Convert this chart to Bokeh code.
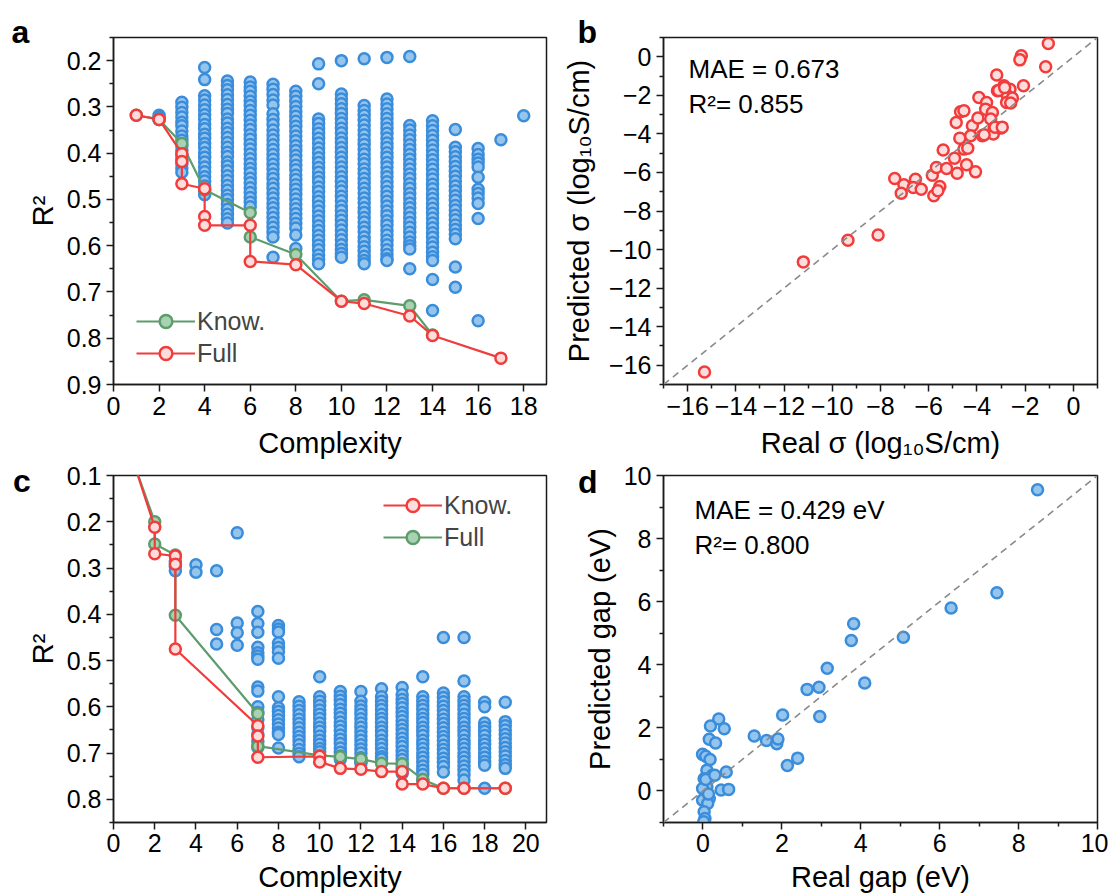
from bokeh.plotting import figure
from bokeh.layouts import column, row
from bokeh.models import Range1d, FixedTicker, Label, Legend, LegendItem, Slope
from bokeh.embed import file_html
from bokeh.resources import INLINE

FONT = "Liberation Sans"
INK = "#1a1a1a"
BLUE_LINE = "#3a8ddb"
BLUE_FILL = "#95c4ed"
RED = "#f23c3c"
RED_FILL = "#fddcdc"
GREEN = "#5d9d6d"
GREEN_FILL = "#a8d2b2"

# ---------------- panel a data ----------------
a_cols = [2, 3, 4, 5, 6, 7, 8, 9, 10, 11, 12, 13, 14, 15, 16, 17, 18]
a_vals = [
    [0.318, 0.322, 0.327],
    [0.290, 0.301, 0.312, 0.322, 0.333, 0.341, 0.352, 0.363, 0.372, 0.384, 0.393, 0.404, 0.413, 0.423, 0.432, 0.441],
    [0.215, 0.241, 0.276, 0.285, 0.296, 0.306, 0.317, 0.326, 0.338, 0.347, 0.359, 0.368, 0.379, 0.388, 0.399, 0.409,
     0.419, 0.430, 0.440, 0.451, 0.460, 0.471, 0.482, 0.490],
    [0.244, 0.254, 0.263, 0.274, 0.284, 0.295, 0.305, 0.314, 0.326, 0.335, 0.346, 0.356, 0.366, 0.377, 0.387, 0.398,
     0.407, 0.419, 0.428, 0.438, 0.449, 0.459, 0.470, 0.480, 0.491, 0.500, 0.511, 0.521, 0.532, 0.542, 0.551],
    [0.246, 0.257, 0.266, 0.277, 0.288, 0.297, 0.308, 0.318, 0.329, 0.339, 0.349, 0.360, 0.370, 0.381, 0.391, 0.402,
     0.412, 0.423, 0.433, 0.443, 0.454, 0.464, 0.475, 0.485, 0.496, 0.506, 0.516],
    [0.251, 0.262, 0.273, 0.285, 0.296, 0.315, 0.327, 0.338, 0.350, 0.361, 0.371, 0.382, 0.392, 0.403, 0.413, 0.424,
     0.434, 0.445, 0.455, 0.466, 0.476, 0.487, 0.497, 0.508, 0.518, 0.529, 0.539, 0.550, 0.560, 0.571, 0.581, 0.625],
    [0.266, 0.277, 0.288, 0.299, 0.310, 0.320, 0.331, 0.342, 0.352, 0.363, 0.373, 0.384, 0.394, 0.405, 0.415, 0.426,
     0.436, 0.447, 0.457, 0.468, 0.478, 0.489, 0.499, 0.510, 0.520, 0.531, 0.541, 0.552, 0.562, 0.577, 0.606],
    [0.207, 0.250, 0.326, 0.336, 0.347, 0.357, 0.368, 0.378, 0.389, 0.399, 0.410, 0.420, 0.431, 0.441, 0.452, 0.462,
     0.473, 0.483, 0.494, 0.504, 0.515, 0.525, 0.536, 0.546, 0.557, 0.567, 0.578, 0.588, 0.599, 0.609, 0.620, 0.630, 0.639],
    [0.200, 0.272, 0.283, 0.293, 0.304, 0.314, 0.325, 0.335, 0.346, 0.356, 0.367, 0.377, 0.388, 0.398, 0.409, 0.419,
     0.430, 0.440, 0.451, 0.461, 0.472, 0.482, 0.493, 0.503, 0.514, 0.524, 0.535, 0.545, 0.556, 0.566, 0.577, 0.587,
     0.598, 0.608, 0.617, 0.625],
    [0.196, 0.297, 0.308, 0.318, 0.329, 0.339, 0.350, 0.360, 0.371, 0.381, 0.392, 0.402, 0.413, 0.423, 0.434, 0.444,
     0.455, 0.465, 0.476, 0.486, 0.497, 0.507, 0.518, 0.528, 0.539, 0.549, 0.560, 0.570, 0.581, 0.591, 0.602, 0.612,
     0.623, 0.632, 0.639],
    [0.193, 0.283, 0.294, 0.304, 0.315, 0.325, 0.336, 0.346, 0.357, 0.367, 0.378, 0.388, 0.399, 0.409, 0.420, 0.430,
     0.441, 0.451, 0.462, 0.472, 0.483, 0.493, 0.504, 0.514, 0.525, 0.535, 0.546, 0.556, 0.567, 0.577, 0.588, 0.598,
     0.609, 0.619, 0.628, 0.632],
    [0.191, 0.340, 0.350, 0.361, 0.371, 0.382, 0.392, 0.403, 0.413, 0.424, 0.434, 0.445, 0.455, 0.466, 0.476, 0.487,
     0.497, 0.508, 0.518, 0.529, 0.539, 0.550, 0.560, 0.571, 0.581, 0.592, 0.600, 0.607, 0.650],
    [0.330, 0.341, 0.351, 0.362, 0.372, 0.383, 0.393, 0.404, 0.414, 0.425, 0.435, 0.446, 0.456, 0.467, 0.477, 0.488,
     0.498, 0.509, 0.519, 0.530, 0.540, 0.551, 0.561, 0.572, 0.582, 0.593, 0.603, 0.614, 0.624, 0.632, 0.673, 0.740],
    [0.349, 0.387, 0.397, 0.408, 0.418, 0.429, 0.439, 0.450, 0.460, 0.471, 0.481, 0.492, 0.502, 0.513, 0.523, 0.534,
     0.544, 0.555, 0.565, 0.575, 0.585, 0.646, 0.690],
    [0.390, 0.403, 0.413, 0.421, 0.430, 0.452, 0.478, 0.487, 0.497, 0.509, 0.541, 0.762],
    [0.371],
    [0.319],
]
a_know_x = [1, 2, 3, 4, 6, 6, 8, 10, 11, 13, 14]
a_know_y = [0.318, 0.327, 0.379, 0.479, 0.529, 0.581, 0.619, 0.720, 0.717, 0.730, 0.793]
a_full_x = [1, 2, 3, 3, 3, 4, 4, 4, 6, 6, 8, 10, 11, 13, 14, 17]
a_full_y = [0.318, 0.327, 0.401, 0.418, 0.466, 0.477, 0.537, 0.556, 0.556, 0.634, 0.641, 0.720, 0.725, 0.752, 0.794, 0.843]
a_xticks = [0, 2, 4, 6, 8, 10, 12, 14, 16, 18]
a_yticks = [0.2, 0.3, 0.4, 0.5, 0.6, 0.7, 0.8, 0.9]
a_ytick_labels = ["0.2", "0.3", "0.4", "0.5", "0.6", "0.7", "0.8", "0.9"]
a_yminor = [0.15, 0.25, 0.35, 0.45, 0.55, 0.65, 0.75, 0.85]

# ---------------- panel b data ----------------
b_real = [-15.3, -11.2, -9.35, -8.1, -7.41, -7.03, -7.14, -6.55, -6.64, -6.31, -5.85, -5.68, -5.79, -5.54, -5.62,
          -5.40, -5.26, -4.93, -4.82, -4.71, -4.54, -4.38, -4.43, -4.06, -4.86, -4.68, -4.54, -4.19, -4.26, -3.96,
          -3.92, -3.78, -3.60, -3.64, -3.36, -3.43, -3.29, -3.32, -3.02, -3.18, -3.15, -2.88, -2.63, -2.74, -2.77,
          -2.53, -2.07, -2.16, -2.22, -1.15, -1.04, -3.10, -2.85, -2.60, -3.25, -2.95, -3.70]
b_pred = [-16.35, -10.64, -9.52, -9.25, -6.31, -6.64, -7.08, -6.35, -6.78, -6.87, -6.14, -5.74, -7.21, -6.73, -6.95,
          -4.84, -5.80, -5.26, -6.04, -4.22, -4.79, -4.74, -5.60, -5.97, -3.41, -2.85, -2.80, -3.58, -4.10, -3.18,
          -2.11, -4.10, -2.37, -2.72, -2.89, -3.23, -3.70, -4.01, -3.70, -0.95, -1.76, -1.50, -1.68, -2.02, -2.37,
          -2.14, -1.50, 0.05, -0.16, -0.52, 0.69, -1.75, -1.60, -2.40, -3.65, -3.65, -4.05]
b_ticks = [-16, -14, -12, -10, -8, -6, -4, -2, 0]
b_tick_labels = ["\u221216", "\u221214", "\u221212", "\u221210", "\u22128", "\u22126", "\u22124", "\u22122", "0"]
b_minor = [-17, -15, -13, -11, -9, -7, -5, -3, -1, 1]

# ---------------- panel c data ----------------
c_cols = [3, 4, 5, 6, 7, 8, 9, 10, 11, 12, 13, 14, 15, 16, 17, 18, 19]
c_vals = [
    [0.285, 0.297, 0.306],
    [0.293, 0.309],
    [0.306, 0.433, 0.464],
    [0.224, 0.419, 0.440, 0.467],
    [0.394, 0.420, 0.439, 0.471, 0.483, 0.490, 0.497, 0.557, 0.566, 0.600, 0.612, 0.628, 0.645, 0.660, 0.675, 0.688],
    [0.424, 0.432, 0.438, 0.462, 0.472, 0.481, 0.495, 0.578, 0.602, 0.610, 0.619, 0.628, 0.637, 0.646, 0.655, 0.660, 0.689],
    [0.589, 0.599, 0.608, 0.617, 0.627, 0.636, 0.645, 0.655, 0.664, 0.673, 0.682, 0.692, 0.701, 0.708],
    [0.535, 0.578, 0.588, 0.597, 0.607, 0.616, 0.625, 0.635, 0.644, 0.653, 0.663, 0.672, 0.681, 0.690, 0.697],
    [0.567, 0.577, 0.586, 0.595, 0.605, 0.614, 0.623, 0.633, 0.642, 0.651, 0.661, 0.670, 0.679, 0.689, 0.698, 0.706, 0.713],
    [0.567, 0.588, 0.598, 0.607, 0.616, 0.626, 0.635, 0.644, 0.654, 0.663, 0.672, 0.682, 0.691, 0.700, 0.710, 0.718, 0.722],
    [0.561, 0.578, 0.588, 0.597, 0.606, 0.616, 0.625, 0.634, 0.644, 0.653, 0.662, 0.672, 0.681, 0.690, 0.700, 0.708, 0.713],
    [0.558, 0.574, 0.584, 0.593, 0.602, 0.612, 0.621, 0.630, 0.640, 0.649, 0.658, 0.668, 0.677, 0.686, 0.696, 0.705,
     0.714, 0.724, 0.733, 0.744],
    [0.535, 0.578, 0.588, 0.597, 0.606, 0.616, 0.625, 0.634, 0.644, 0.653, 0.662, 0.672, 0.681, 0.690, 0.700, 0.709,
     0.718, 0.728, 0.737, 0.746, 0.758],
    [0.450, 0.570, 0.580, 0.589, 0.599, 0.608, 0.617, 0.627, 0.636, 0.645, 0.655, 0.664, 0.673, 0.683, 0.692, 0.701,
     0.711, 0.720, 0.729, 0.741],
    [0.450, 0.544, 0.578, 0.588, 0.597, 0.606, 0.616, 0.625, 0.634, 0.644, 0.653, 0.662, 0.672, 0.681, 0.690, 0.700,
     0.709, 0.718, 0.728, 0.737, 0.747, 0.758],
    [0.590, 0.600, 0.635, 0.644, 0.653, 0.662, 0.672, 0.681, 0.690, 0.700, 0.709, 0.718, 0.726, 0.776],
    [0.590, 0.632, 0.641, 0.650, 0.660, 0.669, 0.678, 0.688, 0.697, 0.706, 0.716, 0.725, 0.733],
]
c_know_x = [1, 2, 2, 3, 3, 3, 7, 7, 7, 10, 10, 11, 12, 13, 14, 14, 15, 16, 17, 19]
c_know_y = [0.075, 0.212, 0.269, 0.274, 0.292, 0.475, 0.641, 0.663, 0.709, 0.707, 0.719, 0.733, 0.735, 0.740, 0.740,
            0.767, 0.767, 0.776, 0.776, 0.776]
c_full_x = [1, 2, 2, 3, 3, 7, 7, 10, 11, 12, 13, 14, 15, 16, 17, 19]
c_full_y = [0.075, 0.200, 0.248, 0.272, 0.402, 0.615, 0.685, 0.705, 0.708, 0.713, 0.722, 0.723, 0.757, 0.776, 0.776, 0.776]
c_xticks = [0, 2, 4, 6, 8, 10, 12, 14, 16, 18, 20]
c_yticks = [0.1, 0.2, 0.3, 0.4, 0.5, 0.6, 0.7, 0.8]
c_ytick_labels = ["0.1", "0.2", "0.3", "0.4", "0.5", "0.6", "0.7", "0.8"]
c_yminor = [0.15, 0.25, 0.35, 0.45, 0.55, 0.65, 0.75, 0.85]

# ---------------- panel d data ----------------
d_real = [8.48, 7.45, 6.29, 5.08, 3.82, 3.76, 3.15, 4.10, 2.94, 2.64, 2.96, 2.02, 1.30, 1.61, 1.87, 1.90, 2.14, 2.40,
          0.40, 0.19, 0.54, 0.16, 0.32, -0.01, 0.07, 0.18, 0.10, 0.59, 0.03, 0.24, 0.10, 0.46, 0.65, -0.01, 0.16,
          -0.01, 0.12, 0.03, 0.05, 0.02, 0.07, 0.30, 0.14]
d_pred = [9.55, 6.28, 5.80, 4.87, 5.30, 4.77, 3.89, 3.42, 3.29, 3.22, 2.36, 2.41, 1.74, 1.60, 1.50, 1.65, 0.81, 1.04,
          2.28, 2.06, 1.97, 1.64, 1.52, 1.16, 1.10, 1.00, 0.66, 0.60, 0.39, 0.50, 0.13, 0.03, 0.05, 0.08, -0.24,
          -0.29, -0.40, -0.66, -0.87, -0.98, 0.36, 0.50, -0.10]
d_ticks = [0, 2, 4, 6, 8, 10]
d_minor = [-1, 1, 3, 5, 7, 9]


def style_axis(ax, label_standoff, title_standoff):
    ax.axis_line_width = 1.5
    ax.axis_line_color = INK
    ax.major_tick_line_color = INK
    ax.major_tick_line_width = 1.5
    ax.minor_tick_line_color = INK
    ax.minor_tick_line_width = 1.5
    ax.major_tick_in = 0
    ax.major_tick_out = 7
    ax.minor_tick_in = 0
    ax.minor_tick_out = 4
    ax.major_label_text_font = FONT
    ax.major_label_text_font_size = "25px"
    ax.major_label_text_color = "black"
    ax.major_label_standoff = label_standoff
    ax.axis_label_text_font = FONT
    ax.axis_label_text_font_size = "29px"
    ax.axis_label_text_font_style = "normal"
    ax.axis_label_text_color = "black"
    ax.axis_label_standoff = title_standoff


def make_fig(xr, yr, w, h, left, right, top, bottom, xs, ys):
    p = figure(width=w, height=h, x_range=xr, y_range=yr, output_backend="svg",
               toolbar_location=None, min_border_left=left, min_border_right=right,
               min_border_top=top, min_border_bottom=bottom)
    p.xgrid.visible = False
    p.ygrid.visible = False
    p.outline_line_color = INK
    p.outline_line_width = 1.5
    p.outline_line_alpha = 1.0
    p.background_fill_color = "white"
    p.border_fill_color = "white"
    style_axis(p.xaxis[0], xs[0], xs[1])
    style_axis(p.yaxis[0], ys[0], ys[1])
    return p


def letter_above(p, txt, x, y):
    # in the (empty) panel above the frame, so it is not clipped to the frame
    p.add_layout(Label(x=x, y=y, x_units="screen", y_units="screen", text=txt,
                       text_font=FONT, text_font_size="32px", text_font_style="bold",
                       text_baseline="middle", text_color="black"), "above")


def letter_left(p, txt, x, y):
    # in a side panel (not clipped), positioned through the plot's own scales
    p.add_layout(Label(x=x, y=y, x_units="data", y_units="data", text=txt,
                       text_font=FONT, text_font_size="32px", text_font_style="bold",
                       text_baseline="middle", text_color="black"), "left")


def note(p, txt, x, y):
    p.add_layout(Label(x=x, y=y, x_units="screen", y_units="screen", text=txt,
                       text_font=FONT, text_font_size="26px", text_baseline="middle",
                       text_color="black"))


def pareto(p, xs, ys, color, fill):
    ln = p.line(xs, ys, line_color=color, line_width=2.2)
    sc = p.scatter(xs, ys, size=11, line_color=color, line_width=2.5, fill_color=fill)
    return [ln, sc]


def make_legend(p, items, loc):
    lg = Legend(items=items, location=loc, padding=0, margin=0, spacing=0,
                glyph_width=59, glyph_height=32, label_standoff=2, label_height=32,
                label_text_font=FONT, label_text_font_size="25px",
                background_fill_alpha=0, border_line_alpha=0)
    p.add_layout(lg)


# ---------------- panel a ----------------
pa = make_fig(Range1d(0, 19), Range1d(0.9, 0.15), 558, 462, 113, 12, 37, 78, (5, 9), (5, 5))
pa.xaxis.axis_label = "Complexity"
pa.yaxis.axis_label = "R\u00b2"
pa.xaxis.ticker = FixedTicker(ticks=a_xticks, minor_ticks=[])
pa.yaxis.ticker = FixedTicker(ticks=a_yticks, minor_ticks=a_yminor)
pa.yaxis.major_label_overrides = dict(zip(a_yticks, a_ytick_labels))
ax_pts, ay_pts = [], []
for cx, vals in zip(a_cols, a_vals):
    ax_pts += [cx] * len(vals)
    ay_pts += vals
pa.scatter(ax_pts, ay_pts, size=11, line_color=BLUE_LINE, line_width=2.5, fill_color=BLUE_FILL)
ka = pareto(pa, a_know_x, a_know_y, GREEN, GREEN_FILL)
fa = pareto(pa, a_full_x, a_full_y, RED, RED_FILL)
make_legend(pa, [LegendItem(label="Know.", renderers=ka), LegendItem(label="Full", renderers=fa)], (23, 15))
letter_above(pa, "a", -102, 6)

# ---------------- panel b ----------------
pb = make_fig(Range1d(-17, 1), Range1d(-17, 1), 550, 462, 105, 11, 37, 78, (5, 9), (5, 11))
pb.xaxis.axis_label = "Real \u03c3 (log\u2081\u2080S/cm)"
pb.yaxis.axis_label = "Predicted \u03c3 (log\u2081\u2080S/cm)"
for axis in (pb.xaxis, pb.yaxis):
    axis.ticker = FixedTicker(ticks=b_ticks, minor_ticks=b_minor)
    axis.major_label_overrides = dict(zip(b_ticks, b_tick_labels))
pb.add_layout(Slope(gradient=1, y_intercept=0, line_color="#8a8a8a", line_width=1.6, line_dash="7 5"))
pb.scatter(b_real, b_pred, size=11, line_color=RED, line_width=2.5, fill_color=RED_FILL)
note(pb, "MAE = 0.673", 25, 316)
note(pb, "R\u00b2= 0.855", 25, 281)
letter_above(pb, "b", -86, 6)

# ---------------- panel c ----------------
pc = make_fig(Range1d(0, 21), Range1d(0.85, 0.1), 558, 434, 113, 12, 13, 74, (4, 6), (5, 5))
pc.xaxis.axis_label = "Complexity"
pc.yaxis.axis_label = "R\u00b2"
pc.xaxis.ticker = FixedTicker(ticks=c_xticks, minor_ticks=[])
pc.yaxis.ticker = FixedTicker(ticks=c_yticks, minor_ticks=c_yminor)
pc.yaxis.major_label_overrides = dict(zip(c_yticks, c_ytick_labels))
cx_pts, cy_pts = [], []
for cx, vals in zip(c_cols, c_vals):
    cx_pts += [cx] * len(vals)
    cy_pts += vals
pc.scatter(cx_pts, cy_pts, size=11, line_color=BLUE_LINE, line_width=2.5, fill_color=BLUE_FILL)
fc = pareto(pc, c_full_x, c_full_y, GREEN, GREEN_FILL)
kc = pareto(pc, c_know_x, c_know_y, RED, RED_FILL)
make_legend(pc, [LegendItem(label="Know.", renderers=kc), LegendItem(label="Full", renderers=fc)], (270, 269))
letter_left(pc, "c", -4.87, 0.112)

# ---------------- panel d ----------------
pd = make_fig(Range1d(-1, 10), Range1d(-1, 10), 550, 434, 105, 11, 13, 74, (4, 6), (5, 5))
pd.xaxis.axis_label = "Real gap (eV)"
pd.yaxis.axis_label = "Predicted gap (eV)"
for axis in (pd.xaxis, pd.yaxis):
    axis.ticker = FixedTicker(ticks=d_ticks, minor_ticks=d_minor)
pd.add_layout(Slope(gradient=1, y_intercept=0, line_color="#8a8a8a", line_width=1.6, line_dash="7 5"))
pd.scatter(d_real, d_pred, size=11, line_color=BLUE_LINE, line_width=2.5, fill_color=BLUE_FILL)
note(pd, "MAE = 0.429 eV", 31, 313)
note(pd, "R\u00b2= 0.800", 31, 278)
letter_left(pd, "d", -3.17, 9.79)

layout = column(row(pa, pb), row(pc, pd))
open("out.html", "w").write(file_html(layout, INLINE))
